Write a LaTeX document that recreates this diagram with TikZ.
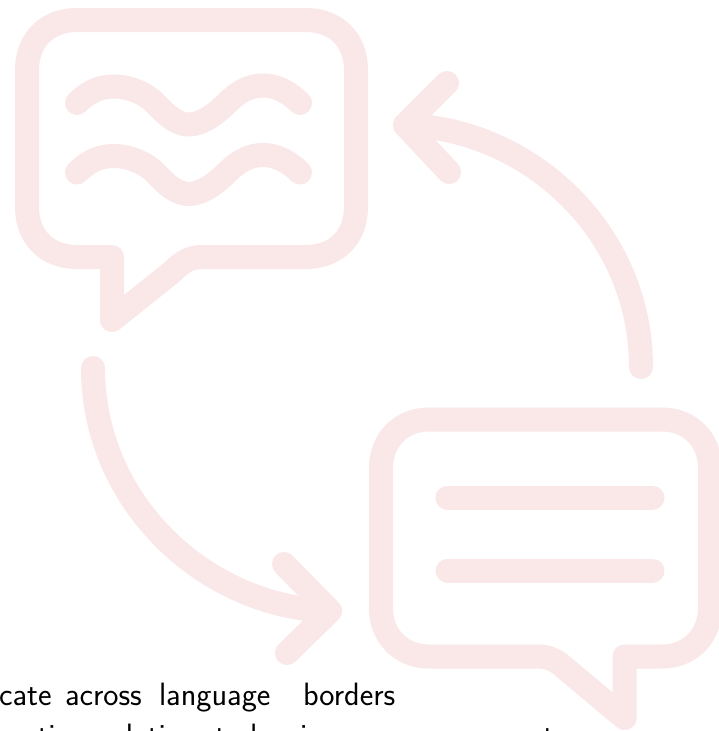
\documentclass[tikz,border=0pt]{standalone}
\definecolor{iconpink}{HTML}{FAE8E8}
\tikzset{
  icon/.style={draw=iconpink,line width=24pt,line cap=round,line join=round},
  word/.style={anchor=base west,inner sep=0pt,outer sep=0pt,text=black,font=\fontsize{32.3}{38}\selectfont\sffamily}
}
\begin{document}
\begin{tikzpicture}[x=1pt,y=-1pt]
\useasboundingbox (0,0) rectangle (719,731);
\clip (0,0) rectangle (719,731);
\fill[white] (0,0) rectangle (719,731);
% top-left bubble
\draw[icon] (77,20) -- (306,20) .. controls (336,20) and (356,40) .. (356,70)
  -- (356,207) .. controls (356,237) and (336,257) .. (306,257)
  -- (202,257) .. controls (190,257) and (182,262) .. (172,272)
  -- (112,320) -- (112,257) -- (77,257)
  .. controls (47,257) and (27,237) .. (27,207)
  -- (27,70) .. controls (27,40) and (47,20) .. (77,20) -- cycle;
% waves
\foreach \dy in {0,69.5}{
\begin{scope}[yshift=-\dy pt]
\draw[icon] (77,103) .. controls (90,90) and (102,86.5) .. (114,86.5)
  .. controls (130,86.5) and (147,94) .. (157,105)
  .. controls (168,117) and (178,124.5) .. (189,124.5)
  .. controls (201,124.5) and (215,115) .. (227,103)
  .. controls (239,91) and (250,85.5) .. (263,85.5)
  .. controls (276,85.5) and (289,92) .. (300,103);
\end{scope}}
% bottom-right bubble
\draw[icon] (429,419.5) -- (662,419.5) .. controls (690,419.5) and (710,440) .. (710,468)
  -- (710,608) .. controls (710,636) and (690,656.5) .. (662,656.5)
  -- (624.5,656.5) -- (624.5,718) -- (560,664)
  .. controls (553,659) and (547,656.5) .. (538,656.5)
  -- (429,656.5) .. controls (401,656.5) and (381,636) .. (381,608)
  -- (381,468) .. controls (381,440) and (401,419.5) .. (429,419.5) -- cycle;
\draw[icon] (447.5,497.5) -- (652.5,497.5);
\draw[icon] (447.5,570.5) -- (652.5,570.5);
% arrows
\coordinate (tipA) at (405,125);
\coordinate (tipB) at (330,611);
\draw[icon] (641,367) .. controls (641,233) and (531,129) .. (tipA);
\draw[icon] (447,83) -- (tipA) -- (449,172);
\draw[icon] (93,368) .. controls (93,502) and (204,607) .. (tipB);
\draw[icon] (284,564) -- (tipB) -- (287,653);
% cropped text
\node[word] (w1) at (-1,705) {cate};
\node[word] (w2) at (65,705) {across};
\node[word] (w3) at (159,705) {language};
\node[word] (w4) at (303,705) {borders};
\node[word] (w5) at (24,746) {ctions};
\node[word] (w6) at (102,746) {relative};
\node[word] (w7) at (215,746) {to};
\node[word] (w8) at (250,746) {barriers};
\node[word] (w9) at (543,746) {t};
\end{tikzpicture}
\end{document}
